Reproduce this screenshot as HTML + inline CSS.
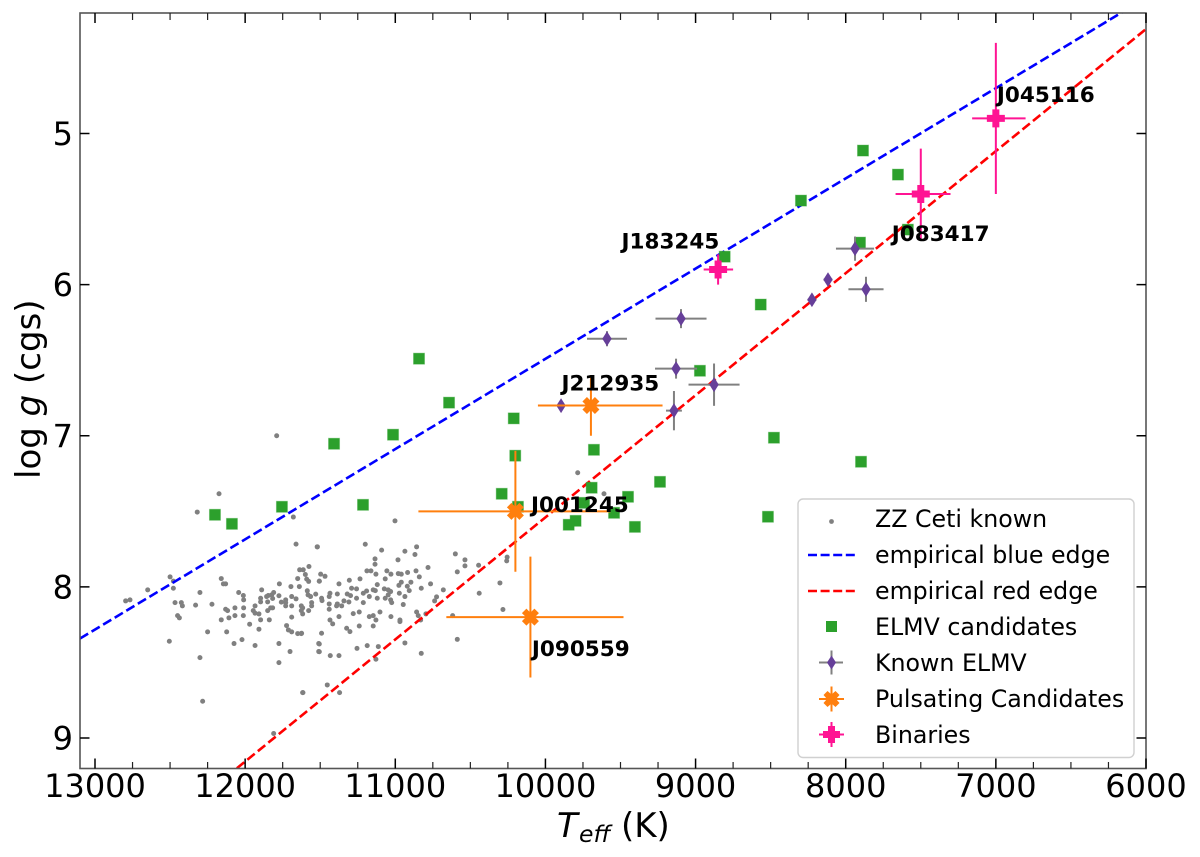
<!DOCTYPE html>
<html>
<head>
<meta charset="utf-8">
<title>log g vs Teff</title>
<style>
html,body{margin:0;padding:0;background:#fff;}
svg{display:block;font-family:"DejaVu Sans","Liberation Sans",sans-serif;}
</style>
</head>
<body>
<svg id="chart" xmlns="http://www.w3.org/2000/svg" width="1200" height="857" viewBox="0 0 1200 857">
  <defs><clipPath id="plot-clip"><rect x="80" y="13" width="1066" height="755.5"></rect></clipPath></defs>
  <g id="marks" clip-path="url(#plot-clip)"></g>
  <g id="labels"></g>
  <rect x="80" y="13" width="1066" height="755.5" fill="none" stroke="#555" stroke-width="1.6"></rect>
  <g id="axes"></g>
  <text transform="translate(40,479) rotate(-90)" font-size="34" fill="#000">log <tspan font-style="italic">g</tspan> (cgs)</text>
  <text font-size="34" fill="#000"><tspan x="557" y="837" font-style="italic">T</tspan><tspan x="579" y="842" font-size="23.5" font-style="italic">eff</tspan><tspan x="621" y="837">(K)</tspan></text>
  <g>
    <rect x="798" y="499" width="336" height="258.5" rx="5" fill="#fff" fill-opacity="0.9" stroke="#d0d0d0" stroke-width="1.4"></rect>
    <g font-size="23.7" fill="#000">
      <g><circle cx="831.5" cy="521.5" r="2.4" fill="#808080"></circle><text x="875" y="527">ZZ Ceti known</text></g>
      <g><line x1="808" y1="555" x2="855" y2="555" stroke="#0000ff" stroke-width="2.5" stroke-dasharray="9 3.6"></line><text x="875" y="563">empirical blue edge</text></g>
      <g><line x1="808" y1="591" x2="855" y2="591" stroke="#ff0000" stroke-width="2.5" stroke-dasharray="9 3.6"></line><text x="875" y="599">empirical red edge</text></g>
      <g><rect x="826" y="621" width="11" height="11" fill="#2ca02c"></rect><text x="875" y="635">ELMV candidates</text></g>
      <g><line x1="819" y1="662.5" x2="843" y2="662.5" stroke="#808080" stroke-width="2"></line><line x1="831.5" y1="650.5" x2="831.5" y2="674.5" stroke="#808080" stroke-width="2"></line><polygon points="831.5,655.5 836,662.5 831.5,669.5 827,662.5" fill="#663f99"></polygon><text x="875" y="671">Known ELMV</text></g>
      <g><line x1="819" y1="699" x2="844" y2="699" stroke="#ff7f0e" stroke-width="2"></line><line x1="831.5" y1="686.5" x2="831.5" y2="711.5" stroke="#ff7f0e" stroke-width="2"></line><polygon points="827.5,691 831.5,694.5 835.5,691 839.5,695 836,699 839.5,703 835.5,707 831.5,703.5 827.5,707 823.5,703 827,699 823.5,695" fill="#ff7f0e"></polygon><text x="875" y="707">Pulsating Candidates</text></g>
      <g><line x1="819" y1="734.5" x2="844" y2="734.5" stroke="#ff1493" stroke-width="2"></line><line x1="831.5" y1="722" x2="831.5" y2="747" stroke="#ff1493" stroke-width="2"></line><polygon points="828,726 835,726 835,731 840,731 840,738 835,738 835,743 828,743 828,738 823,738 823,731 828,731" fill="#ff1493"></polygon><text x="875" y="743">Binaries</text></g>
    </g>
  </g>
</svg>
<script>
var xMajorTicks = [13000,12000,11000,10000,9000,8000,7000,6000];
var xMinorTicks = [12750,12500,12250,11750,11500,11250,10750,10500,10250,9750,9500,9250,8750,8500,8250,7750,7500,7250,6750,6500,6250];
var yMajorTicks = [5,6,7,8,9];

var blueEdgeTeff = [13100,6000];
var blueEdgeLogg = [8.342,4.103];
var redEdgeTeff = [12055,6000];
var redEdgeLogg = [9.2,4.309];

var zzTeff = [12174,12319,12500,12478,12478,12649,12796,12767,12301,12467,12425,12418,12330,12221,12450,12438,12505,12301,12283,12250,12159,12145,12130,12043,12012,12010,11890,11772,12123,12130,12117,12068,12010,12159,12108,12068,12012,11970,11908,12074,12021,11934,11775,11701,11775,11615,11679,11661,11519,11637,11613,11575,11599,11650,11590,11577,11506,11695,11639,11586,11581,11564,11530,11557,11557,11577,11661,11690,11730,11759,11730,11730,11690,11775,11810,11823,11846,11857,11817,11850,11897,11897,11934,11946,11934,11908,11850,11830,11817,11897,11839,11690,11626,11617,11626,11617,11724,11712,11690,11650,11626,11510,11510,11002,11520,11200,11091,10858,10936,10869,10982,11135,11135,11189,11162,11129,11056,11029,10980,10960,10918,10862,10782,10840,11067,11235,11306,11497,11468,11506,10896,10960,10765,11375,11120,10976,10920,10827,10907,11291,11258,11191,11147,11133,11073,11047,11031,10680,10441,10600,10536,10536,10587,10445,11386,11435,11440,11320,11298,11213,10973,10936,10725,10738,11258,11213,11173,11120,11067,11047,11031,11024,10947,11342,11309,11357,11391,11386,11440,11440,11491,11488,11280,11240,11375,11102,11147,11173,11129,11029,10969,10969,10858,10847,10831,10796,10618,11435,11417,11240,11147,11324,11302,11491,11624,11506,11506,11433,11375,11255,11187,11113,10936,10827,11129,10587,11453,11371,11617,9785,9610,11790,11810,10303,10255,10258,10283];
var zzLogg = [7.384,7.505,7.934,7.962,8.009,8.02,8.093,8.086,8.037,8.104,8.104,8.126,8.121,8.115,8.19,8.205,8.36,8.468,8.757,8.298,7.945,7.98,7.98,8.037,8.057,8.086,8.02,7.98,8.298,8.148,8.157,8.139,8.139,8.218,8.205,8.19,8.19,8.247,8.28,8.375,8.349,8.388,8.375,8.428,8.501,8.7,7.538,7.717,7.735,7.887,7.887,7.865,7.918,7.945,7.949,7.964,7.962,7.998,7.998,8.026,8.053,8.064,8.048,8.104,8.126,8.157,8.079,8.064,8.086,8.101,8.104,8.126,8.126,8.059,8.037,8.053,8.057,8.064,8.077,8.099,8.075,8.099,8.126,8.157,8.174,8.179,8.157,8.139,8.139,8.218,8.218,8.2,8.126,8.139,8.157,8.179,8.256,8.285,8.298,8.309,8.309,8.375,8.428,7.563,7.735,7.718,7.757,7.735,7.764,7.786,7.821,7.815,7.85,7.894,7.894,7.916,7.894,7.916,7.912,7.916,7.905,7.894,7.872,7.934,7.947,7.947,7.956,7.916,7.93,7.963,7.969,7.969,7.98,7.98,7.985,7.99,7.996,8.009,8.025,8.009,8.013,8.027,8.02,8.025,8.013,8.02,8.031,8.02,8.042,7.782,7.821,7.861,7.901,7.857,8.047,8.042,8.064,8.047,8.058,8.042,8.042,8.064,8.066,8.093,8.075,8.104,8.064,8.075,8.075,8.053,8.086,8.104,8.117,8.093,8.1,8.126,8.126,8.113,8.113,8.148,8.075,8.091,8.177,8.166,8.197,8.166,8.19,8.197,8.219,8.197,8.219,8.23,8.166,8.19,8.219,8.179,8.19,8.219,8.245,8.259,8.259,8.274,8.296,8.307,8.307,8.378,8.429,8.455,8.455,8.407,8.389,8.395,8.371,8.44,8.479,8.347,8.649,8.7,8.7,7.245,7.384,7.0,8.97,7.974,7.803,7.828,8.15];

var elmvCandidateTeff = [12201,12088,11755,11408,11215,11015,10842,10642,10211,10201,10291,10183,9677,9692,9743,9450,9543,9799,9845,9404,9237,8971,8478,8518,8298,8806,8566,7905,7885,7652,7898,7586];
var elmvCandidateLogg = [7.523,7.583,7.47,7.053,7.457,6.993,6.49,6.781,6.885,7.132,7.384,7.47,7.093,7.344,7.444,7.404,7.51,7.563,7.589,7.603,7.305,6.57,7.013,7.536,5.444,5.815,6.132,5.722,5.113,5.272,7.172,5.636];

var knownTeff = [9896,9590,9097,9130,9144,8877,8225,8118,7938,7865];
var knownLogg = [6.801,6.358,6.225,6.556,6.834,6.662,6.1,5.967,5.762,6.031];
var knownTeffErrHot = [20,133,170,140,53,170,30,30,127,117];
var knownTeffErrCool = [20,133,170,140,53,170,30,30,127,117];
var knownLoggErr = [0.03,0.05,0.063,0.066,0.13,0.14,0.03,0.03,0.08,0.083];

var pulsatingTeff = [9697,10200,10100];
var pulsatingLogg = [6.8,7.5,8.2];
var pulsatingTeffErrHot = [353,646,560];
var pulsatingTeffErrCool = [477,633,620];
var pulsatingLoggErr = [0.2,0.4,0.4];

var binaryTeff = [7000,7500,8850];
var binaryLogg = [4.9,5.4,5.9];
var binaryTeffErrHot = [158,168,96];
var binaryTeffErrCool = [198,198,100];
var binaryLoggErr = [0.5,0.3,0.1];

var sourceNames = ["J045116","J083417","J183245","J212935","J001245","J090559"];
var sourceTeff = [6993,7693,9493,9893,10096,10090];
var sourceLogg = [4.79,5.71,5.76,6.7,7.505,8.458];

var NS = "http://www.w3.org/2000/svg";
var X0 = 95, X1 = 1146, T0 = 13000, T1 = 6000;
var Y0 = 133.5, Y1 = 738, G0 = 5, G1 = 9;
function xScale(t){ return X0 + (t - T0) * (X1 - X0) / (T1 - T0); }
function yScale(g){ return Y0 + (g - G0) * (Y1 - Y0) / (G1 - G0); }
function make(tag, parent, props){
  var el = document.createElementNS(NS, tag);
  for (var k in props) el.setAttribute(k, props[k]);
  parent.appendChild(el);
  return el;
}
var marks = document.getElementById("marks");
var axes = document.getElementById("axes");
var labels = document.getElementById("labels");

function drawErrors(px, py, exHot, exCool, ey, color, width, ts, gs){
  var h = make("line", marks, {x1:xScale(ts+exHot), x2:xScale(ts-exCool), y1:py, y2:py, stroke:color, "stroke-width":width});
  
  
  var v = make("line", marks, {x1:px, x2:px, y1:yScale(gs-ey), y2:yScale(gs+ey), stroke:color, "stroke-width":width});
  
  
}
function shape(cx, cy, offsets){
  return offsets.map(function(o){ return (cx + o[0]) + "," + (cy + o[1]); }).join(" ");
}

zzTeff.forEach(function(t, i){
  var c = make("circle", marks, {cx:xScale(t), cy:yScale(zzLogg[i]), r:2.5, fill:"#808080"});
  
  
});

var blueLine = make("line", marks, {x1:xScale(blueEdgeTeff[0]), y1:yScale(blueEdgeLogg[0]), x2:xScale(blueEdgeTeff[1]), y2:yScale(blueEdgeLogg[1]), stroke:"#0000ff", "stroke-width":2.6, "stroke-dasharray":"9.5 4"});


var redLine = make("line", marks, {x1:xScale(redEdgeTeff[0]), y1:yScale(redEdgeLogg[0]), x2:xScale(redEdgeTeff[1]), y2:yScale(redEdgeLogg[1]), stroke:"#ff0000", "stroke-width":2.6, "stroke-dasharray":"9.5 4"});



elmvCandidateTeff.forEach(function(t, i){
  var r = make("rect", marks, {x:xScale(t)-5.5, y:yScale(elmvCandidateLogg[i])-5.5, width:11, height:11, fill:"#2ca02c", stroke:"#2ca02c", "stroke-opacity":0.35, "stroke-width":1});
  
  
});

var diamond = [[0,-7.4],[4.7,0],[0,7.4],[-4.7,0]];
knownTeff.forEach(function(t, i){
  var px = xScale(t), py = yScale(knownLogg[i]);
  drawErrors(px, py, knownTeffErrHot[i], knownTeffErrCool[i], knownLoggErr[i], "#808080", 2, t, knownLogg[i]);
  var p = make("polygon", marks, {points:shape(px, py, diamond), fill:"#663f99"});
  
  
});

var xShape = [[-4,-8.5],[0,-4.5],[4,-8.5],[8.5,-4],[4.5,0],[8.5,4],[4,8.5],[0,4.5],[-4,8.5],[-8.5,4],[-4.5,0],[-8.5,-4]];
pulsatingTeff.forEach(function(t, i){
  var px = xScale(t), py = yScale(pulsatingLogg[i]);
  drawErrors(px, py, pulsatingTeffErrHot[i], pulsatingTeffErrCool[i], pulsatingLoggErr[i], "#ff7f0e", 2, t, pulsatingLogg[i]);
  var p = make("polygon", marks, {points:shape(px, py, xShape), fill:"#ff7f0e"});
  
  
});

var plusShape = [[-3.5,-9],[3.5,-9],[3.5,-3.5],[9,-3.5],[9,3.5],[3.5,3.5],[3.5,9],[-3.5,9],[-3.5,3.5],[-9,3.5],[-9,-3.5],[-3.5,-3.5]];
binaryTeff.forEach(function(t, i){
  var px = xScale(t), py = yScale(binaryLogg[i]);
  drawErrors(px, py, binaryTeffErrHot[i], binaryTeffErrCool[i], binaryLoggErr[i], "#ff1493", 2, t, binaryLogg[i]);
  var p = make("polygon", marks, {points:shape(px, py, plusShape), fill:"#ff1493"});
  
  
});

sourceNames.forEach(function(name, i){
  var t = make("text", labels, {x:xScale(sourceTeff[i]), y:yScale(sourceLogg[i]), "font-size":21.5, "font-weight":"bold", fill:"#000"});
  t.textContent = name;
  
  
});

xMajorTicks.forEach(function(t){
  var x = xScale(t);
  var a = make("line", axes, {x1:x, x2:x, y1:768.5, y2:758.5, stroke:"#000", "stroke-width":1.5});
  
  
  var b = make("line", axes, {x1:x, x2:x, y1:13, y2:23, stroke:"#000", "stroke-width":1.5});
  
  
  var lbl = make("text", axes, {x:x, y:797, "text-anchor":"middle", "font-size":32, fill:"#000"});
  lbl.textContent = t;
  
  
});
xMinorTicks.forEach(function(t){
  var x = xScale(t);
  var a = make("line", axes, {x1:x, x2:x, y1:768.5, y2:762, stroke:"#222", "stroke-width":1.2});
  
  
  var b = make("line", axes, {x1:x, x2:x, y1:13, y2:20, stroke:"#222", "stroke-width":1.2});
  
  
});
yMajorTicks.forEach(function(g){
  var y = yScale(g);
  var a = make("line", axes, {x1:80, x2:89.5, y1:y, y2:y, stroke:"#000", "stroke-width":1.5});
  
  
  var b = make("line", axes, {x1:1146, x2:1136.5, y1:y, y2:y, stroke:"#000", "stroke-width":1.5});
  
  
  var lbl = make("text", axes, {x:73, y:y+11.5, "text-anchor":"end", "font-size":32, fill:"#000"});
  lbl.textContent = g;
  
  
});
</script>
</body>
</html>
